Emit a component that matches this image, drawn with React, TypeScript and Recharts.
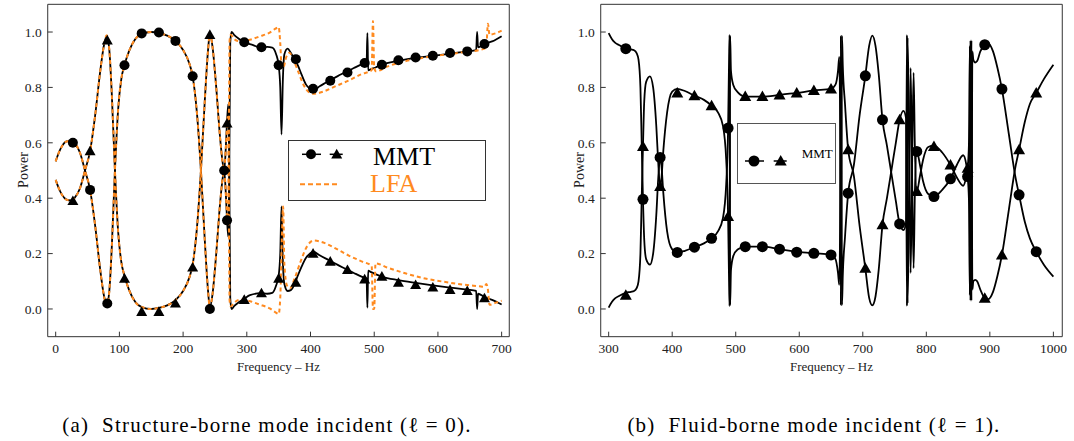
import React from 'react';
import { ComposedChart, Line, Scatter, XAxis, YAxis } from 'recharts';

type Pt = [number, number];

// (a) structure-borne mode incident, MMT curves (frequency Hz, power)
const aMmtUpper: Pt[] = [
  [0, 0.533], [5, 0.565], [10, 0.588], [17, 0.605], [24, 0.607], [30, 0.598], [38, 0.565], [46, 0.5],
  [54, 0.43], [62, 0.3], [70, 0.14], [76, 0.045], [80, 0.015], [84, 0.06], [88, 0.22], [93, 0.5],
  [98, 0.72], [103, 0.83], [108, 0.88], [115, 0.93], [125, 0.975], [135, 0.993], [150, 1.0], [162, 0.996],
  [175, 0.987], [188, 0.968], [200, 0.935], [210, 0.885], [215, 0.84], [222, 0.7], [228, 0.5], [234, 0.25],
  [239, 0.07], [242, 0.005], [246, 0.05], [252, 0.2], [258, 0.38], [262, 0.47], [264.5, 0.5], [267, 0.42],
  [269, 0.32], [271, 0.26], [272.5, 0.5], [274, 0.96], [276, 1.0], [280, 0.99], [288, 0.975], [296, 0.963],
  [310, 0.953], [322, 0.943], [332, 0.946], [340, 0.944], [346, 0.92], [350, 0.88], [352.5, 0.8], [354.5, 0.63],
  [356.5, 0.82], [359, 0.92], [364, 0.94], [369, 0.925], [375, 0.9], [380, 0.88], [386, 0.846], [393, 0.81],
  [399, 0.795], [404, 0.79], [415, 0.805], [429, 0.824], [442, 0.84], [455, 0.855], [468, 0.87], [482, 0.885],
  [488, 0.89], [489.3, 0.996], [490.5, 0.862], [495, 0.866], [502, 0.872], [512, 0.882], [538, 0.896], [565, 0.907],
  [592, 0.914], [619, 0.922], [646, 0.93], [660, 0.935], [661.5, 1.0], [663, 0.945], [673, 0.957], [685, 0.966],
  [700, 0.985],
];
const aMmtLower: Pt[] = [
  [0, 0.466], [5, 0.435], [10, 0.412], [17, 0.395], [24, 0.392], [30, 0.402], [38, 0.435], [46, 0.5],
  [54, 0.57], [62, 0.7], [70, 0.86], [76, 0.955], [80, 0.985], [84, 0.94], [88, 0.78], [93, 0.5],
  [98, 0.28], [103, 0.17], [108, 0.12], [115, 0.07], [125, 0.025], [135, 0.007], [150, 0.0], [162, 0.004],
  [175, 0.013], [188, 0.032], [200, 0.065], [210, 0.115], [215, 0.16], [222, 0.3], [228, 0.5], [234, 0.75],
  [239, 0.93], [242, 0.995], [246, 0.95], [252, 0.8], [258, 0.62], [262, 0.53], [264.5, 0.5], [267, 0.58],
  [269, 0.68], [271, 0.74], [272.5, 0.5], [274, 0.04], [276, 0.0], [280, 0.01], [288, 0.025], [296, 0.037],
  [305, 0.05], [322, 0.057], [332, 0.055], [340, 0.058], [346, 0.085], [350, 0.12], [352.5, 0.2], [354.5, 0.37],
  [356.5, 0.18], [359, 0.09], [364, 0.065], [369, 0.068], [375, 0.09], [380, 0.12], [386, 0.153], [393, 0.185],
  [399, 0.2], [404, 0.207], [415, 0.193], [429, 0.176], [442, 0.16], [455, 0.145], [468, 0.13], [482, 0.115],
  [488, 0.11], [489.3, 0.005], [490.5, 0.138], [495, 0.133], [502, 0.126], [512, 0.117], [538, 0.104], [565, 0.094],
  [592, 0.085], [619, 0.077], [646, 0.07], [660, 0.065], [661.5, 0.0], [663, 0.055], [673, 0.043], [685, 0.033],
  [700, 0.016],
];

// (a) LFA curves
const aLfaUpper: Pt[] = [
  [0, 0.533], [5, 0.565], [10, 0.588], [17, 0.605], [24, 0.607], [30, 0.598], [38, 0.565], [46, 0.5],
  [54, 0.43], [62, 0.3], [70, 0.14], [76, 0.045], [80, 0.012], [84, 0.06], [88, 0.22], [93, 0.5],
  [98, 0.72], [103, 0.83], [108, 0.88], [115, 0.93], [125, 0.975], [135, 0.993], [150, 1.0], [162, 0.996],
  [175, 0.987], [188, 0.968], [200, 0.935], [210, 0.885], [215, 0.84], [222, 0.7], [228, 0.5], [234, 0.25],
  [239, 0.07], [242, 0.005], [246, 0.05], [252, 0.2], [258, 0.38], [262, 0.47], [264.5, 0.5], [267, 0.42],
  [269, 0.34], [270.5, 0.3], [271.5, 0.5], [273, 0.97], [275, 0.99], [280, 0.975], [290, 0.966], [305, 0.972],
  [320, 0.984], [336, 0.998], [345, 1.012], [350, 1.018], [352.5, 0.96], [354.5, 0.88], [357, 0.87], [362, 0.91],
  [367, 0.925], [373, 0.9], [381, 0.855], [390, 0.805], [398, 0.782], [405, 0.777], [420, 0.785], [440, 0.805],
  [460, 0.825], [480, 0.848], [496, 0.862], [498, 1.04], [500, 0.87], [503, 0.858], [520, 0.875], [550, 0.895],
  [580, 0.908], [610, 0.918], [640, 0.927], [665, 0.935], [673, 0.94], [676, 0.95], [678.5, 1.03], [681, 0.99],
  [690, 0.995], [700, 1.005],
];
const aLfaLower: Pt[] = [
  [0, 0.466], [5, 0.435], [10, 0.412], [17, 0.395], [24, 0.392], [30, 0.402], [38, 0.435], [46, 0.5],
  [54, 0.57], [62, 0.7], [70, 0.86], [76, 0.955], [80, 0.988], [84, 0.94], [88, 0.78], [93, 0.5],
  [98, 0.28], [103, 0.17], [108, 0.12], [115, 0.07], [125, 0.025], [135, 0.007], [150, 0.0], [162, 0.004],
  [175, 0.013], [188, 0.032], [200, 0.065], [210, 0.115], [215, 0.16], [222, 0.3], [228, 0.5], [234, 0.75],
  [239, 0.93], [242, 0.995], [246, 0.95], [252, 0.8], [258, 0.62], [262, 0.53], [264.5, 0.5], [267, 0.58],
  [269, 0.66], [270.5, 0.7], [271.5, 0.5], [273, 0.03], [275, 0.01], [280, 0.022], [290, 0.034], [305, 0.028],
  [320, 0.016], [336, 0.002], [345, -0.012], [350, -0.018], [352.5, 0.04], [355, 0.25], [357, 0.37], [359, 0.16],
  [363, 0.085], [368, 0.075], [375, 0.11], [385, 0.175], [395, 0.228], [405, 0.247], [420, 0.24], [440, 0.218],
  [460, 0.193], [480, 0.172], [496, 0.155], [498, 0.0], [500, 0.0], [502, 0.165], [520, 0.15], [550, 0.128],
  [580, 0.11], [610, 0.098], [640, 0.088], [665, 0.082], [673, 0.08], [676, 0.09], [678.5, 0.07], [681, 0.015],
  [690, 0.022], [700, 0.03],
];

// (a) plot markers
const aCircles: Pt[] = [
  [27, 0.6], [54, 0.43], [81, 0.02], [108, 0.88], [135, 0.995], [162, 0.998], [188, 0.968], [215, 0.84],
  [242, 0.0], [264.5, 0.5], [269, 0.32], [296, 0.963], [323, 0.945], [350, 0.88], [377, 0.902], [404, 0.795],
  [431, 0.824], [458, 0.854], [485, 0.888], [512, 0.882], [538, 0.898], [565, 0.908], [592, 0.914], [619, 0.924],
  [646, 0.93], [673, 0.957],
];
const aTriangles: Pt[] = [
  [27, 0.39], [54, 0.57], [81, 0.97], [108, 0.11], [135, -0.01], [162, -0.01], [188, 0.02], [215, 0.15],
  [242, 0.99], [269, 0.67], [296, 0.033], [323, 0.057], [350, 0.11], [377, 0.095], [404, 0.2], [431, 0.171],
  [458, 0.141], [485, 0.107], [512, 0.117], [538, 0.095], [565, 0.087], [592, 0.078], [619, 0.069], [646, 0.065],
  [673, 0.039],
];

// (b) fluid-borne mode incident, MMT curves
const bMmtCircle: Pt[] = [
  [300, 0.996], [305, 0.975], [310, 0.962], [317, 0.952], [327, 0.94], [335, 0.937], [340, 0.934], [344, 0.924],
  [347, 0.9], [350, 0.8], [352, 0.6], [354, 0.396], [356, 0.25], [359, 0.18], [365, 0.16], [370, 0.2],
  [375, 0.34], [378, 0.47], [381, 0.547], [383, 0.52], [386, 0.42], [392, 0.28], [400, 0.215], [408, 0.204],
  [420, 0.21], [435, 0.223], [450, 0.237], [462, 0.255], [472, 0.28], [480, 0.33], [485, 0.45], [488, 0.653],
  [489.5, 0.9], [490.3, 0.99], [491.2, 0.015], [492.5, 0.14], [496, 0.19], [503, 0.215], [515, 0.225], [542, 0.225],
  [569, 0.216], [596, 0.207], [623, 0.201], [650, 0.196], [657, 0.18], [661, 0.13], [663, 0.087], [664.5, 0.4],
  [665.5, 0.985], [666.5, 0.5], [667.3, 0.015], [668.5, 0.12], [672, 0.26], [677, 0.418], [686, 0.52], [695, 0.7],
  [704, 0.842], [710, 0.95], [715, 0.987], [720, 0.95], [725, 0.85], [731, 0.683], [738, 0.59], [745, 0.49],
  [752, 0.39], [758, 0.307], [764, 0.285], [768, 0.31], [769.5, 0.99], [770.5, 0.02], [772.5, 0.3], [775.3, 0.87],
  [777.5, 0.5], [780, 0.147], [782, 0.42], [785, 0.569], [790, 0.52], [795, 0.46], [803, 0.415], [812, 0.406],
  [825, 0.43], [838, 0.47], [848, 0.52], [858, 0.555], [863, 0.52], [865, 0.478], [867, 0.4], [868.5, 0.05],
  [869.5, 0.97], [871, 0.03], [872.5, 0.93], [874, 0.9], [877, 0.89], [880, 0.895], [885, 0.93], [892, 0.954],
  [897, 0.96], [905, 0.93], [912, 0.87], [919, 0.794], [930, 0.63], [940, 0.48], [946, 0.412], [955, 0.315],
  [963, 0.255], [973, 0.207], [985, 0.16], [1000, 0.117],
];
const bMmtTriangle: Pt[] = [
  [300, 0.005], [305, 0.025], [310, 0.038], [317, 0.048], [327, 0.058], [335, 0.062], [340, 0.065], [344, 0.075],
  [347, 0.1], [350, 0.2], [352, 0.4], [354, 0.587], [356, 0.75], [359, 0.82], [365, 0.84], [370, 0.8],
  [375, 0.66], [378, 0.53], [381, 0.442], [383, 0.47], [386, 0.57], [392, 0.71], [400, 0.785], [408, 0.795],
  [420, 0.787], [435, 0.77], [450, 0.755], [462, 0.734], [472, 0.71], [480, 0.66], [485, 0.54], [488, 0.334],
  [489.5, 0.1], [490.3, 0.01], [491.2, 0.985], [492.5, 0.86], [496, 0.81], [503, 0.783], [515, 0.767], [542, 0.767],
  [569, 0.773], [596, 0.78], [623, 0.789], [650, 0.795], [657, 0.81], [661, 0.86], [663, 0.91], [664.5, 0.6],
  [665.5, 0.015], [666.5, 0.5], [667.3, 0.985], [668.5, 0.88], [672, 0.74], [677, 0.575], [686, 0.48], [695, 0.3],
  [704, 0.147], [710, 0.04], [715, 0.013], [720, 0.045], [725, 0.14], [731, 0.304], [738, 0.4], [745, 0.5],
  [752, 0.6], [758, 0.683], [764, 0.715], [768, 0.69], [769.5, 0.01], [770.5, 0.98], [772.5, 0.7], [775.3, 0.13],
  [777.5, 0.5], [780, 0.853], [782, 0.58], [785, 0.424], [790, 0.48], [795, 0.54], [803, 0.585], [812, 0.59],
  [825, 0.565], [838, 0.52], [848, 0.475], [858, 0.445], [863, 0.48], [865, 0.508], [867, 0.59], [868.5, 0.95],
  [869.5, 0.03], [871, 0.97], [872.5, 0.07], [874, 0.1], [877, 0.105], [880, 0.1], [885, 0.07], [892, 0.039],
  [897, 0.035], [905, 0.062], [912, 0.12], [919, 0.195], [930, 0.36], [940, 0.51], [946, 0.575], [955, 0.675],
  [963, 0.74], [973, 0.78], [985, 0.83], [1000, 0.882],
];

// (b) plot markers
const bCircles: Pt[] = [
  [327, 0.94], [354, 0.396], [381, 0.547], [408, 0.204], [435, 0.223], [462, 0.255], [488, 0.653], [515, 0.225],
  [542, 0.225], [569, 0.216], [596, 0.205], [623, 0.201], [650, 0.195], [677, 0.418], [704, 0.842], [731, 0.683],
  [758, 0.307], [785, 0.569], [812, 0.406], [838, 0.47], [865, 0.478], [892, 0.954], [919, 0.794], [946, 0.412],
  [973, 0.207],
];
const bTriangles: Pt[] = [
  [327, 0.05], [354, 0.587], [381, 0.442], [408, 0.78], [435, 0.77], [462, 0.734], [488, 0.334], [515, 0.767],
  [542, 0.767], [569, 0.773], [596, 0.78], [623, 0.789], [650, 0.794], [677, 0.575], [704, 0.147], [731, 0.304],
  [758, 0.683], [785, 0.424], [812, 0.587], [838, 0.52], [865, 0.508], [892, 0.039], [919, 0.195], [946, 0.575],
  [973, 0.78],
];

const aFreqTicks = [0, 100, 200, 300, 400, 500, 600, 700];
const bFreqTicks = [300, 400, 500, 600, 700, 800, 900, 1000];
const powerTicks = [0, 0.2, 0.4, 0.6, 0.8, 1.0];

const steps = (from: number, to: number, d: number) => {
  const out: number[] = [];
  for (let v = from; v <= to + 1e-9; v += d) out.push(Math.round(v * 1000) / 1000);
  return out;
};

const FRAME = '#333';
const ORANGE = '#ff8a1f';
const SERIF = 'Liberation Serif';
const tickFont = { fontFamily: SERIF, fontSize: 13.5, fill: '#222' };

const toRows = (pts: Pt[]) => pts.map(([f, v]) => ({ f, v }));

interface Curve {
  pts: Pt[];
  color: string;
  width: number;
  dash?: string;
}

interface PanelProps {
  width: number;
  height: number;
  margin: { top: number; right: number; bottom: number; left: number };
  xDomain: [number, number];
  xTicks: number[];
  xMinor: number[];
  curves: Curve[];
  circles: Pt[];
  triangles: Pt[];
  markerR: number;
}

function Panel({ width, height, margin, xDomain, xTicks, xMinor, curves, circles, triangles, markerR }: PanelProps) {
  const yDomain: [number, number] = [-0.1, 1.1];
  const yMinor = steps(-0.1, 1.1, 0.05);
  const tri = markerR + 0.5;
  return (
    <ComposedChart width={width} height={height} margin={margin}>
      <XAxis
        xAxisId="b" type="number" dataKey="f" domain={xDomain} allowDataOverflow ticks={xTicks} interval={0}
        height={0.01} tickSize={-5} tickMargin={12} axisLine={{ stroke: FRAME }} tickLine={{ stroke: FRAME }}
        tick={tickFont}
        label={{ value: 'Frequency – Hz', position: 'bottom', offset: 25, fontFamily: SERIF, fontSize: 13, fill: '#222' }}
      />
      <XAxis xAxisId="bm" type="number" domain={xDomain} allowDataOverflow ticks={xMinor} interval={0}
        height={0.01} tickSize={-3} axisLine={false} tickLine={{ stroke: FRAME }} tick={false} />
      <XAxis xAxisId="t" orientation="top" type="number" domain={xDomain} allowDataOverflow ticks={xTicks} interval={0}
        height={0.01} tickSize={-5} axisLine={{ stroke: FRAME }} tickLine={{ stroke: FRAME }} tick={false} />
      <XAxis xAxisId="tm" orientation="top" type="number" domain={xDomain} allowDataOverflow ticks={xMinor} interval={0}
        height={0.01} tickSize={-3} axisLine={false} tickLine={{ stroke: FRAME }} tick={false} />
      <YAxis
        yAxisId="l" type="number" dataKey="v" domain={yDomain} allowDataOverflow ticks={powerTicks} interval={0}
        width={0.01} tickSize={-5} tickMargin={11} axisLine={{ stroke: FRAME }} tickLine={{ stroke: FRAME }}
        tick={tickFont} tickFormatter={(v: number) => v.toFixed(1)}
      />
      <YAxis yAxisId="lm" type="number" domain={yDomain} allowDataOverflow ticks={yMinor} interval={0}
        width={0.01} tickSize={-3} axisLine={false} tickLine={{ stroke: FRAME }} tick={false} />
      <YAxis yAxisId="r" orientation="right" type="number" domain={yDomain} allowDataOverflow ticks={powerTicks} interval={0}
        width={0.01} tickSize={-5} axisLine={{ stroke: FRAME }} tickLine={{ stroke: FRAME }} tick={false} />
      <YAxis yAxisId="rm" orientation="right" type="number" domain={yDomain} allowDataOverflow ticks={yMinor} interval={0}
        width={0.01} tickSize={-3} axisLine={false} tickLine={{ stroke: FRAME }} tick={false} />

      {curves.map((c, i) => (
        <Line
          key={i} xAxisId="b" yAxisId="l" data={toRows(c.pts)} dataKey="v" type="monotone"
          stroke={c.color} strokeWidth={c.width} strokeDasharray={c.dash} dot={false} activeDot={false}
          isAnimationActive={false}
        />
      ))}
      <Scatter
        xAxisId="b" yAxisId="l" data={toRows(circles)} dataKey="v" isAnimationActive={false}
        shape={(p: any) => <circle cx={p.cx} cy={p.cy} r={markerR} fill="#000" />}
      />
      <Scatter
        xAxisId="b" yAxisId="l" data={toRows(triangles)} dataKey="v" isAnimationActive={false}
        shape={(p: any) => (
          <polygon
            points={`${p.cx},${p.cy - tri} ${p.cx - tri},${p.cy + tri * 0.75} ${p.cx + tri},${p.cy + tri * 0.75}`}
            fill="#000"
          />
        )}
      />
    </ComposedChart>
  );
}

const abs = (left: number, top: number): React.CSSProperties => ({ position: 'absolute', left, top });

function PowerLabel({ x, y }: { x: number; y: number }) {
  return (
    <div style={{ ...abs(x, y), transform: 'translate(-50%, -50%) rotate(-90deg)', fontSize: 14, color: '#222', whiteSpace: 'nowrap', fontFamily: SERIF }}>
      Power
    </div>
  );
}

function Caption({ x, y, text }: { x: number; y: number; text: string }) {
  return (
    <div style={{ ...abs(x, y), transform: 'translate(-50%, -50%)', fontSize: 21, letterSpacing: 1.2, color: '#000', whiteSpace: 'nowrap', fontFamily: SERIF }}>
      {text}
    </div>
  );
}

function MarkerPair({ y, cx, tx, r }: { y: number; cx: number; tx: number; r: number }) {
  const t = r + 0.5;
  return (
    <g>
      <line x1={cx - 9} y1={y} x2={cx + 10} y2={y} stroke="#000" strokeWidth={1.5} />
      <circle cx={cx} cy={y} r={r} fill="#000" />
      <line x1={tx - 7} y1={y} x2={tx + 6} y2={y} stroke="#000" strokeWidth={1.5} />
      <polygon points={`${tx},${y - t} ${tx - t},${y + t * 0.75} ${tx + t},${y + t * 0.75}`} fill="#000" />
    </g>
  );
}

export default function App() {
  return (
    <div style={{ position: 'absolute', left: 0, top: 0, width: 1074, height: 441, background: '#fff', overflow: 'hidden', fontFamily: SERIF }}>
      <div style={abs(0, 0)}>
        <Panel
          width={520} height={380}
          margin={{ top: 4.3, right: 10.7, bottom: 43.3, left: 47.7 }}
          xDomain={[-12.5, 712]} xTicks={aFreqTicks} xMinor={steps(0, 700, 20)}
          curves={[
            { pts: aMmtUpper, color: '#000', width: 1.8 },
            { pts: aMmtLower, color: '#000', width: 1.8 },
            { pts: aLfaUpper, color: ORANGE, width: 2, dash: '4 3' },
            { pts: aLfaLower, color: ORANGE, width: 2, dash: '4 3' },
          ]}
          circles={aCircles} triangles={aTriangles} markerR={5}
        />
      </div>
      <div style={abs(550, 0)}>
        <Panel
          width={524} height={380}
          margin={{ top: 4.3, right: 11.7, bottom: 43.3, left: 50.7 }}
          xDomain={[287.5, 1014]} xTicks={bFreqTicks} xMinor={steps(300, 1000, 20)}
          curves={[
            { pts: bMmtCircle, color: '#000', width: 1.8 },
            { pts: bMmtTriangle, color: '#000', width: 1.8 },
          ]}
          circles={bCircles} triangles={bTriangles} markerR={5.5}
        />
      </div>

      <PowerLabel x={24} y={170} />
      <PowerLabel x={580} y={170} />

      {/* legend (a) */}
      <div style={{ ...abs(288, 140), width: 198, height: 61, border: `1px solid ${FRAME}`, background: '#fff', boxSizing: 'border-box' }}>
        <svg width={198} height={61} style={{ position: 'absolute', left: -1, top: -1 }}>
          <MarkerPair y={14.3} cx={23} tx={48.7} r={5} />
          <text x={85} y={25} fontSize={26} fontFamily={SERIF} fill="#000">MMT</text>
          <line x1={12} y1={44.3} x2={52} y2={44.3} stroke={ORANGE} strokeWidth={2} strokeDasharray="5 3" />
          <text x={82} y={52} fontSize={26} fontFamily={SERIF} fill={ORANGE}>LFA</text>
        </svg>
      </div>

      {/* legend (b) */}
      <div style={{ ...abs(737, 123), width: 99, height: 61, border: '1px solid #555', background: '#fff', boxSizing: 'border-box' }}>
        <svg width={99} height={61} style={{ position: 'absolute', left: -1, top: -1 }}>
          <MarkerPair y={38} cx={17} tx={43.7} r={5.5} />
          <text x={64.7} y={35} fontSize={13} fontFamily={SERIF} fill="#000">MMT</text>
        </svg>
      </div>

      <Caption x={267} y={425} text={'(a)\u00a0 Structure-borne mode incident (\u2113 = 0).'} />
      <Caption x={814} y={425} text={'(b)\u00a0 Fluid-borne mode incident (\u2113 = 1).'} />
    </div>
  );
}
